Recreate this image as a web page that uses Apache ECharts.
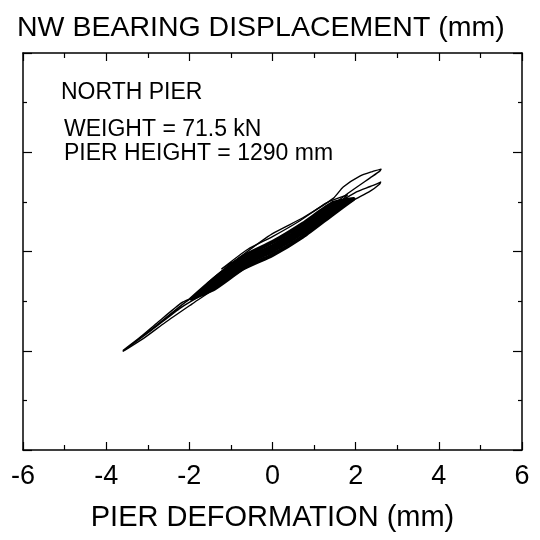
<!DOCTYPE html>
<html>
<head>
<meta charset="utf-8">
<script src="https://cdn.jsdelivr.net/npm/echarts@6/dist/echarts.min.js"></script>
<style>html,body{margin:0;padding:0;background:#fff}#c{width:540px;height:540px}</style>
</head>
<body>
<div id="c"></div>
<script>
// Axis settings
var xMin = -6, xMax = 6, xStep = 2;
var yMin = -4, yMax = 4, yStep = 2;

// Texts
var titleText = 'NW BEARING DISPLACEMENT (mm)';
var xName = 'PIER DEFORMATION (mm)';
var notes = ['NORTH PIER', 'WEIGHT = 71.5 kN', 'PIER HEIGHT = 1290 mm'];

// Hysteresis loops: [deformation, displacement]
var loopUpper = [[-3.59,-1.99],[-3.2,-1.74],[-2.75,-1.42],[-2.18,-1.03],[-1.86,-0.90],[-1.46,-0.56],[-0.7,-0.06],[0,0.36],[0.73,0.68],[1.46,1.07],[1.70,1.30],[2.10,1.52],[2.40,1.61],[2.61,1.66],[2.58,1.62],[2.34,1.48],[1.86,1.20],[1.46,0.95],[0.73,0.50],[0,0.10],[-0.7,-0.30],[-1.38,-0.74],[-1.94,-1.06],[-2.58,-1.43],[-3.1,-1.75],[-3.59,-2.01]];
var loopLower = [[-3.55,-1.98],[-2.9,-1.56],[-2.2,-1.09],[-1.5,-0.66],[-0.7,-0.16],[0,0.20],[0.73,0.55],[1.46,0.92],[2.02,1.20],[2.35,1.31],[2.60,1.40],[2.58,1.36],[2.34,1.21],[1.94,1.03],[1.46,0.78],[0.73,0.32],[0,-0.05],[-0.7,-0.36],[-1.5,-0.78],[-2.2,-1.13],[-2.9,-1.58],[-3.55,-1.98]];
var loopStub = [[-1.22,-0.35],[-0.6,0.04],[0,0.30],[0.66,0.62],[1.3,0.98],[1.8,1.14],[1.46,0.86],[0.73,0.40],[0,0.02],[-0.71,-0.11],[-1.22,-0.35]];
var band1 = [[-1.95,-0.95],[-1.4,-0.75],[-0.7,-0.34],[0,-0.07],[0.73,0.30],[1.46,0.76],[1.95,1.06],[1.46,0.98],[0.73,0.56],[0,0.19],[-0.7,-0.10],[-1.4,-0.55],[-1.95,-0.95]];
var band2 = [[-1.8,-0.88],[-1.4,-0.70],[-0.7,-0.27],[0,0.01],[0.73,0.38],[1.46,0.82],[1.85,1.03],[1.46,0.92],[0.73,0.48],[0,0.11],[-0.7,-0.17],[-1.4,-0.60],[-1.8,-0.88]];
var band3 = [[-1.7,-0.82],[-1.4,-0.65],[-0.7,-0.22],[0,0.06],[0.73,0.43],[1.46,0.87],[1.75,1.00],[1.46,0.88],[0.73,0.44],[0,0.07],[-0.7,-0.21],[-1.4,-0.64],[-1.7,-0.82]];

var FONT = '"Liberation Sans", Arial, Helvetica, sans-serif';

function loopSeries(data, w) {
  return {
    type: 'line', data: data, xAxisIndex: 0, yAxisIndex: 0,
    showSymbol: false, symbol: 'none', smooth: 0.2,
    lineStyle: { color: '#000', width: w, join: 'round', cap: 'round' }, silent: true
  };
}

function xAxisCfg(pos, showLabel) {
  return {
    type: 'value', position: pos, min: xMin, max: xMax, interval: xStep,
    axisLine: { show: true, onZero: false, lineStyle: { color: '#000', width: 1.5 } },
    axisTick: { show: true, inside: true, length: 8, lineStyle: { color: '#000', width: 1.2 } },
    minorTick: { show: true, splitNumber: 2, length: 5, lineStyle: { color: '#000', width: 1.2 } },
    splitLine: { show: false },
    axisLabel: showLabel ? { show: true, fontSize: 27, color: '#000', fontFamily: FONT, margin: 13 } : { show: false },
    name: showLabel ? xName : '', nameLocation: 'middle', nameGap: 53,
    nameTextStyle: { fontSize: 29, color: '#000', fontFamily: FONT }
  };
}
function yAxisCfg(pos) {
  return {
    type: 'value', position: pos, min: yMin, max: yMax, interval: yStep,
    axisLine: { show: true, onZero: false, lineStyle: { color: '#000', width: 1.5 } },
    axisTick: { show: true, inside: true, length: 9, lineStyle: { color: '#000', width: 1.2 } },
    minorTick: { show: true, splitNumber: 2, length: 4, lineStyle: { color: '#000', width: 1.2 } },
    splitLine: { show: false },
    axisLabel: { show: false }
  };
}

var chart = echarts.init(document.getElementById('c'), null, { renderer: 'canvas' });
chart.setOption({
  animation: false,
  backgroundColor: '#fff',
  title: {
    text: titleText, left: 12, top: 9,
    textStyle: { fontSize: 28.5, fontWeight: 'normal', color: '#000', fontFamily: FONT }
  },
  grid: { left: 23, right: 18, top: 53, bottom: 90, containLabel: false },
  xAxis: [xAxisCfg('bottom', true), xAxisCfg('top', false)],
  yAxis: [yAxisCfg('left'), yAxisCfg('right')],
  graphic: [
    { type: 'text', left: 61, top: 81, style: { text: notes[0], font: '23px ' + FONT, fill: '#000' } },
    { type: 'text', left: 64, top: 118, style: { text: notes[1], font: '23px ' + FONT, fill: '#000' } },
    { type: 'text', left: 64, top: 142, style: { text: notes[2], font: '23px ' + FONT, fill: '#000' } }
  ],
  series: [
    loopSeries(band1, 4),
    loopSeries(band2, 4),
    loopSeries(band3, 4),
    loopSeries(loopUpper, 1.4),
    loopSeries(loopLower, 1.4),
    loopSeries(loopStub, 1.4)
  ]
});
</script>
</body>
</html>
